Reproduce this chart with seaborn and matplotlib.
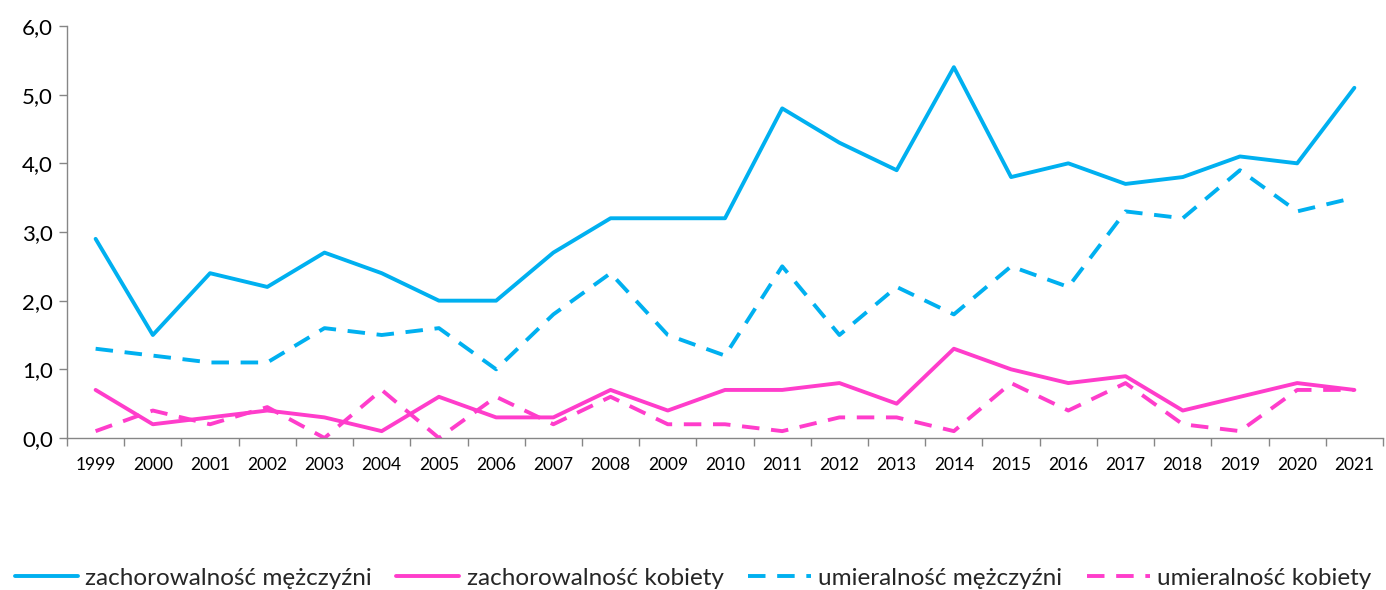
import matplotlib
matplotlib.use("Agg")
import matplotlib.pyplot as plt
import seaborn as sns
import pandas as pd
import numpy as np
from matplotlib.ticker import FuncFormatter, FixedLocator

years = [str(y) for y in range(1999, 2022)]
zach_m = [2.9, 1.5, 2.4, 2.2, 2.7, 2.4, 2.0, 2.0, 2.7, 3.2, 3.2, 3.2, 4.8, 4.3, 3.9, 5.4, 3.8, 4.0, 3.7, 3.8, 4.1, 4.0, 5.1]
zach_k = [0.7, 0.2, 0.3, 0.4, 0.3, 0.1, 0.6, 0.3, 0.3, 0.7, 0.4, 0.7, 0.7, 0.8, 0.5, 1.3, 1.0, 0.8, 0.9, 0.4, 0.6, 0.8, 0.7]
umier_m = [1.3, 1.2, 1.1, 1.1, 1.6, 1.5, 1.6, 1.0, 1.8, 2.4, 1.5, 1.2, 2.5, 1.5, 2.2, 1.8, 2.5, 2.2, 3.3, 3.2, 3.9, 3.3, 3.5]
umier_k = [0.1, 0.4, 0.2, 0.45, 0.0, 0.7, 0.0, 0.6, 0.2, 0.6, 0.2, 0.2, 0.1, 0.3, 0.3, 0.1, 0.8, 0.4, 0.8, 0.2, 0.1, 0.7, 0.7]

labels = ["zachorowalność mężczyźni", "zachorowalność kobiety", "umieralność mężczyźni", "umieralność kobiety"]
series = [zach_m, zach_k, umier_m, umier_k]
BLUE = "#00B0F0"
PINK = "#FF3DCB"
colors = [BLUE, PINK, BLUE, PINK]
dashed = [False, False, True, True]

sns.set_theme(style="white")
plt.rcParams['font.family'] = ['Lato', 'DejaVu Sans']

fig = plt.figure(figsize=(13.86, 5.90), dpi=100)
ax = fig.add_axes([67/1386, 1-438/590, (1383-67)/1386, (438-26)/590])

x = np.arange(len(years))
for vals, lab, col, dsh in zip(series, labels, colors, dashed):
    df = pd.DataFrame({"x": x, "y": vals})
    sns.lineplot(data=df, x="x", y="y", ax=ax, color=col, linewidth=2.8,
                 label=lab, linestyle="--" if dsh else "-")
    if dsh:
        ax.lines[-1].set_dashes([4.5, 3])

ax.set_xlim(-0.5, len(years) - 0.5)
ax.set_ylim(0, 6)
ax.set_yticks(np.arange(0, 6.01, 1.0))
ax.yaxis.set_major_formatter(FuncFormatter(lambda v, p: f"{v:.1f}".replace(".", ",")))
ax.set_xticks(x)
ax.set_xticklabels(years)
ax.xaxis.set_minor_locator(FixedLocator(np.arange(-0.5, len(years), 1.0)))
ax.tick_params(axis="x", which="major", length=0, labelsize=12.5, pad=14, colors="black")
ax.tick_params(axis="x", which="minor", length=6, color="#868686", width=1, direction="out", bottom=True)
ax.tick_params(axis="y", which="major", length=6, color="#868686", width=1, direction="out", left=True, labelsize=16, pad=4, colors="black")
ax.set_xlabel("")
ax.set_ylabel("")
for s in ["top", "right"]:
    ax.spines[s].set_visible(False)
for s in ["left", "bottom"]:
    ax.spines[s].set_color("#868686")
    ax.spines[s].set_linewidth(1)

ax.legend_.remove()
handles, labs = ax.get_legend_handles_labels()
fig.legend(handles, labs, loc="center", bbox_to_anchor=(0.5, 1-578/590), ncol=4, frameon=False,
           fontsize=17.5, handlelength=2.6, handletextpad=0.3, columnspacing=1.0, borderpad=0)

fig.savefig("out.png", dpi=100)
